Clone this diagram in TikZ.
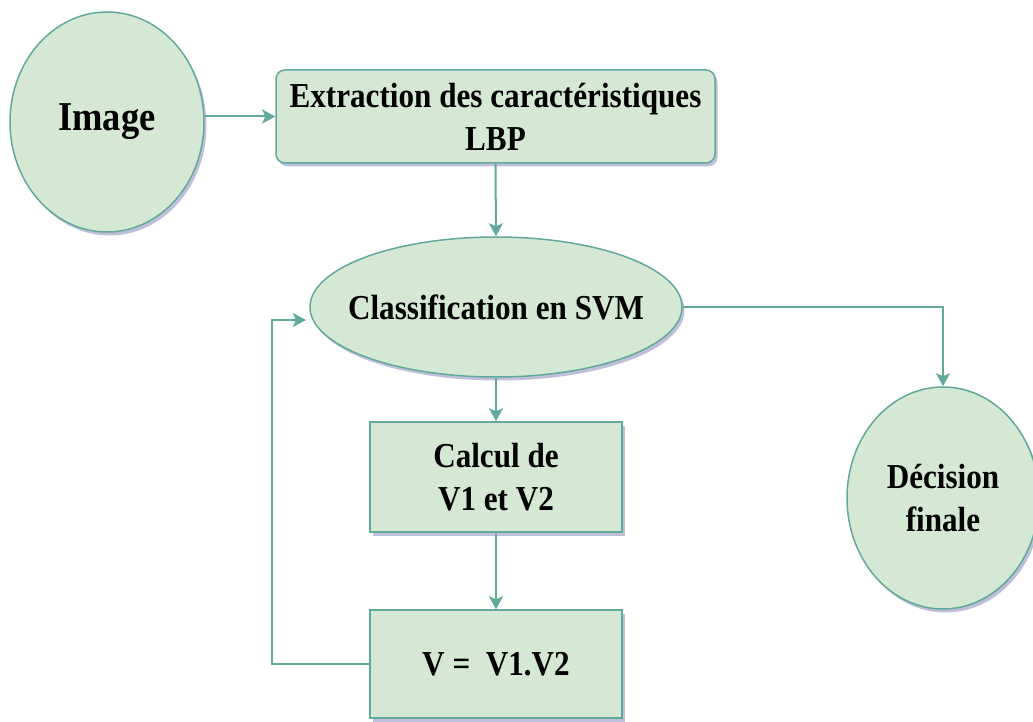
\documentclass[tikz,border=0pt]{standalone}
\usepackage{fontspec}
\setmainfont{Liberation Serif}[FakeStretch=0.89]
\usetikzlibrary{shapes.geometric,arrows.meta,shadows}
\definecolor{boxfill}{HTML}{D5E8D4}
\definecolor{edgecol}{HTML}{62A99C}
\begin{document}
\begin{tikzpicture}[x=1pt,y=-1pt,
  every node/.style={font=\fontsize{35}{43}\selectfont\bfseries, align=center, inner sep=0pt},
  softshadow/.style={drop shadow={shadow xshift=2.5pt, shadow yshift=-3.5pt, opacity=0.25, fill=black!55!blue}},
  blob/.style={ellipse, draw=edgecol, line width=1.5pt, fill=boxfill, softshadow},
  stepbox/.style={rectangle, draw=edgecol, line width=1.5pt, fill=boxfill, softshadow},
  arr/.style={draw=edgecol, line width=2pt, -{Stealth[length=13pt,width=14pt,inset=3pt]}}]
\useasboundingbox (0,0) rectangle (1033,722);

% nodes (ellipse labels are set as centred labels so the text does not widen the shape)
\node[blob, minimum width=194pt, minimum height=220pt,
      label={[font=\fontsize{41}{48}\selectfont\bfseries]center:Image}] (img) at (107,122) {};
\node[stepbox, rounded corners=9pt, minimum width=439pt, minimum height=93pt] (ext) at (495.5,116.5) {Extraction des caractéristiques\\LBP};
\node[blob, minimum width=372pt, minimum height=140pt,
      label={center:Classification en SVM}] (svm) at (496,307) {};
\node[stepbox, minimum width=252pt, minimum height=110pt] (calc) at (496,477) {Calcul de\\V1 et V2};
\node[stepbox, minimum width=252pt, minimum height=108pt] (vv) at (496,664) {V =\ \ V1.V2};
\node[blob, minimum width=192pt, minimum height=222pt,
      label={[align=center]center:Décision\\finale}] (dec) at (943,498) {};

% feedback loop corners
\coordinate (fbcorner) at (272,320);
\coordinate (fbend) at (306,320);

% connectors
\draw[arr] (img.east |- ext.west) -- (ext.west);
\draw[arr] (ext.south) -- (svm.north);
\draw[arr] (svm.south) -- (calc.north);
\draw[arr] (calc.south) -- (vv.north);
\draw[arr] (vv.west) -| (fbcorner) -- (fbend);
\draw[arr] (svm.east) -| (dec.north);
\end{tikzpicture}
\end{document}
